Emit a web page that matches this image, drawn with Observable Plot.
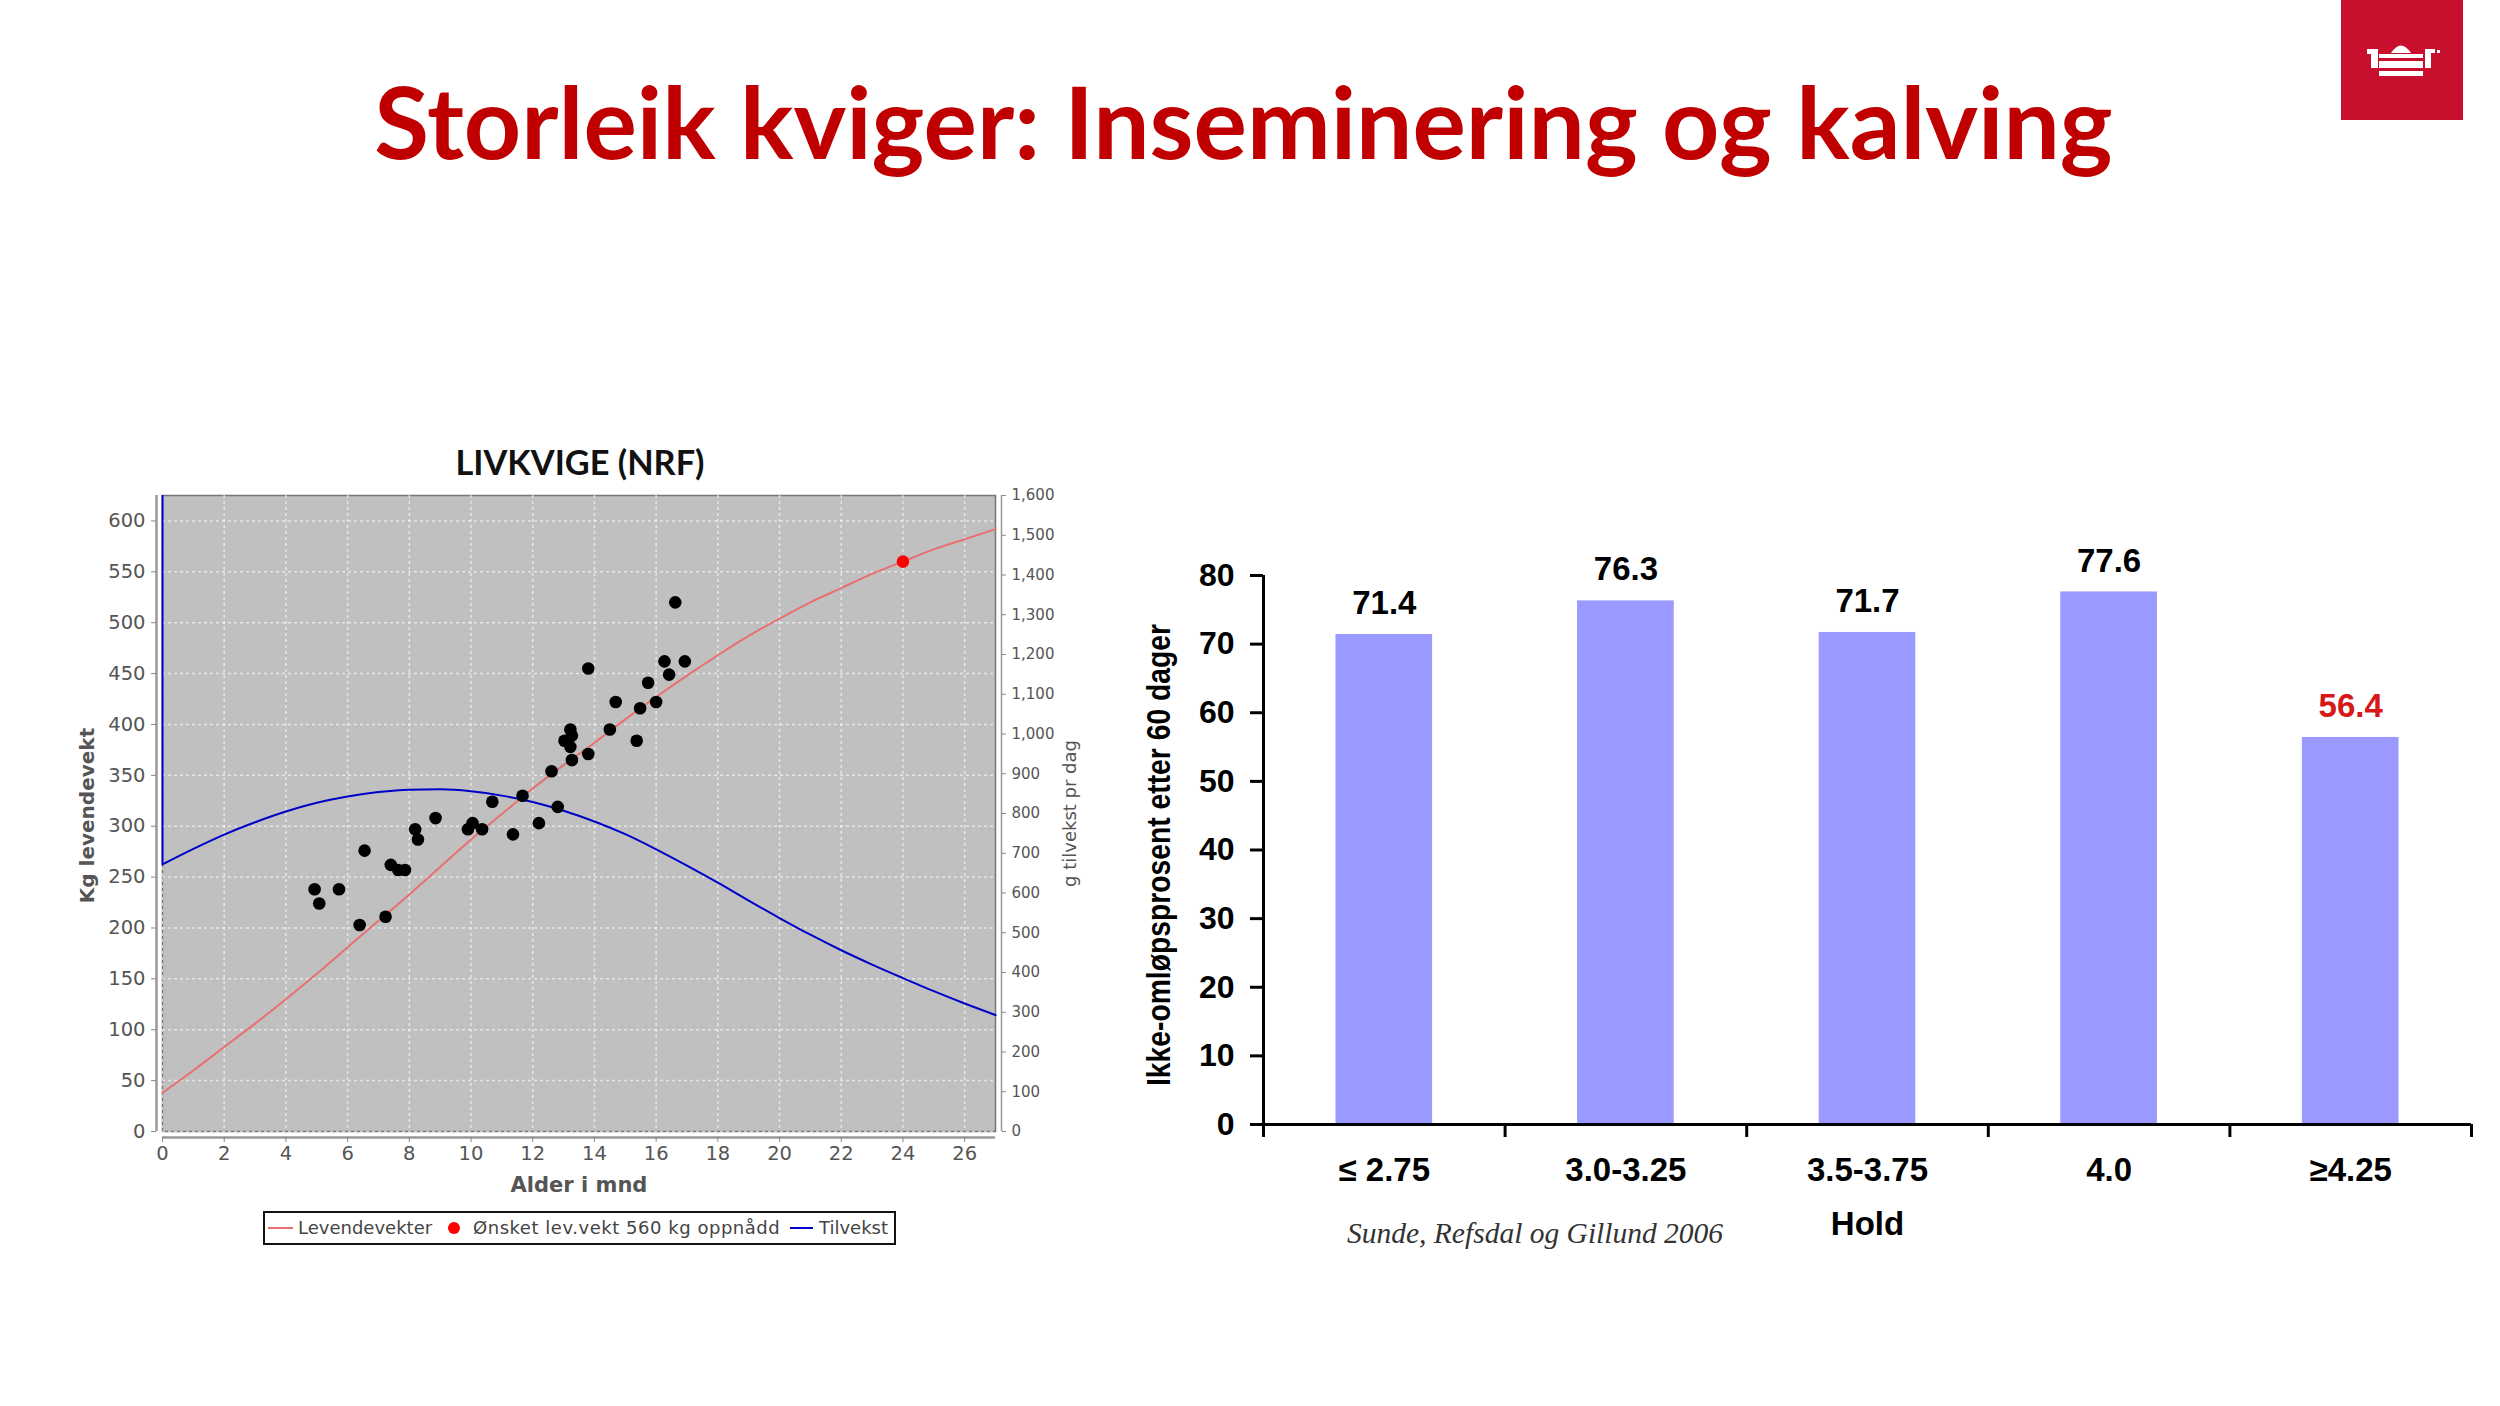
<!DOCTYPE html>
<html><head><meta charset="utf-8">
<script src="https://cdn.jsdelivr.net/npm/d3@7"></script>
<script src="https://cdn.jsdelivr.net/npm/@observablehq/plot@0.6"></script>
<style>
html,body{margin:0;padding:0;background:#fff;width:2500px;height:1406px;overflow:hidden}
#page{position:relative;width:2500px;height:1406px}
#page>div,#page>svg{position:absolute}
#title{left:0;width:2487px;top:60px;text-align:center;font:700 100px Lato,sans-serif;color:#c00000;white-space:nowrap}
#subL{left:260px;width:640px;top:441px;text-align:center;font:700 34.3px Lato,sans-serif;color:#111}
#legend{left:263px;top:1211px;width:629px;height:30px;border:2px solid #111;font:18px "DejaVu Sans",sans-serif;color:#444;white-space:nowrap}
#legend span{position:absolute;top:4px}
#legend i{position:absolute;display:block}
#source{left:1347px;top:1217px;font:italic 29.5px "Liberation Serif",serif;color:#333;white-space:nowrap}
#logo{left:2341px;top:0}
</style></head><body>
<div id="page">
<div id="title">Storleik kviger: Inseminering og kalving</div>
<svg id="logo" width="122" height="120" viewBox="0 0 122 120">
<rect width="122" height="120" fill="#c8102e"/>
<g fill="#fff">
<rect x="26" y="49" width="9" height="5"/><rect x="30" y="49" width="7" height="19"/>
<path d="M50 53 Q60 38 70 53 Z"/>
<rect x="38" y="54" width="44" height="4"/><rect x="38" y="61" width="44" height="7"/><rect x="38" y="71" width="44" height="5"/>
<rect x="84" y="50" width="6" height="18"/><rect x="84" y="49" width="10" height="4"/><rect x="96" y="50" width="3" height="3"/>
</g></svg>
<div id="subL">LIVKVIGE (NRF)</div>
<div id="chartL" style="left:0;top:430px"></div>
<div id="legend">
<i style="left:3px;top:14px;width:25px;height:2px;background:#e87070"></i><span style="left:33px">Levendevekter</span>
<i style="left:183px;top:9px;width:12px;height:12px;border-radius:50%;background:#f00"></i><span style="left:208px;letter-spacing:.53px">Ønsket lev.vekt 560 kg oppnådd</span>
<i style="left:525px;top:14px;width:23px;height:2px;background:#0000c8"></i><span style="left:554px">Tilvekst</span>
</div>
<div id="chartR" style="left:1120px;top:530px"></div>
<div id="source">Sunde, Refsdal og Gillund 2006</div>
</div>
<script>
// Left chart data
const months = [0,1,2,3,4,5,6,7,8,9,10,11,12,13,14,15,16,17,18,19,20,21,22,23,24,25,26,27];
const weightKg = [38,60,83,106,130,155,181,207,233,260,287,312,337,360,382,405,427,448,468,487,504,520,534,548,560,572,582,592];
const gainG = [672,711,747,778,805,827,843,854,860,861,856,845,829,807,780,748,710,669,626,581,537,495,456,420,386,353,322,293];
const dotAge = [4.93,5.08,5.72,6.39,6.55,7.23,7.4,7.64,7.86,8.19,8.28,8.85,9.9,10.05,10.36,10.69,11.36,11.67,12.2,12.61,12.81,13.03,13.22,13.27,13.22,13.27,13.8,13.8,14.5,14.69,15.37,15.48,15.74,16.0,16.27,16.42,16.62,16.93];
const dotKg = [238,224,238,203,276,211,262,257,257,297,287,308,297,303,297,324,292,330,303,354,319,384,395,389,378,365,455,371,395,422,384,416,441,422,462,449,520,462];
const targetAge = [24];
const targetKg = [560];
const kgTicks = d3.range(0,601,50);
const monthTicks = d3.range(0,27,2);
const gainTicks = d3.range(0,1601,100);
const kgMax = 625, gainMax = 1600;
const toKg = g => g*kgMax/gainMax;

const textGrey = "#555";
const left = Plot.plot({
  width:1120,height:860,marginLeft:162,marginRight:125,marginTop:65,marginBottom:159,
  style:{background:"transparent",fontFamily:"'DejaVu Sans',sans-serif",overflow:"visible"},
  x:{domain:[0,27]},
  y:{domain:[0,kgMax]},
  marks:[
    Plot.frame({fill:"#c0c0c0",stroke:"#777",strokeWidth:1.5}),
    Plot.gridX(monthTicks,{stroke:"#fff",strokeOpacity:.6,strokeWidth:1.5,strokeDasharray:"3,3"}),
    Plot.gridY(kgTicks,{stroke:"#fff",strokeOpacity:.6,strokeWidth:1.5,strokeDasharray:"3,3"}),
    Plot.ruleX([0],{dx:-6,stroke:"#999",strokeWidth:2.5}),
    Plot.ruleY([0],{dy:6,stroke:"#999",strokeWidth:2.5}),
    Plot.axisY(kgTicks,{anchor:"left",tickSize:5,dx:-6,tickPadding:6,fontSize:19.5,color:textGrey,stroke:"#888",label:null}),
    Plot.axisX(monthTicks,{anchor:"bottom",tickSize:5,dy:6,tickPadding:4,fontSize:19.5,color:textGrey,stroke:"#888",label:null}),
    Plot.axisY([],{anchor:"left",label:"Kg levendevekt",labelAnchor:"center",labelArrow:"none",labelOffset:83,fontSize:20,fontWeight:"bold",color:"#555"}),
    Plot.axisX([],{anchor:"bottom",label:"Alder i mnd",labelAnchor:"center",labelArrow:"none",labelOffset:60,fontSize:21,fontWeight:"bold",color:"#555"}),
    Plot.axisY(gainTicks.map(toKg),{anchor:"right",tickSize:4,dx:6,tickPadding:6,fontSize:15,color:textGrey,stroke:"#888",label:null,tickFormat:d=>d3.format(",")(Math.round(d*gainMax/kgMax))}),
    Plot.ruleX([27],{dx:6,stroke:"#999",strokeWidth:1.5}),
    Plot.axisY([],{anchor:"right",label:"g tilvekst pr dag",labelAnchor:"center",labelArrow:"none",labelOffset:80,fontSize:18,color:"#555"}),
    Plot.ruleX([0],{y1:toKg(gainG[0]),y2:kgMax,stroke:"#0000c8",strokeWidth:2}),
    Plot.line(months,{x:d=>d,y:(d,i)=>toKg(gainG[i]),stroke:"#0000c8",strokeWidth:2,curve:"monotone-x"}),
    Plot.line(months,{x:d=>d,y:(d,i)=>weightKg[i],stroke:"#e87070",strokeWidth:2,curve:"monotone-x"}),
    Plot.dot(dotAge,{x:d=>d,y:(d,i)=>dotKg[i],r:6.3,fill:"#000"}),
    Plot.dot(targetAge,{x:d=>d,y:(d,i)=>targetKg[i],r:6.3,fill:"#f00"})
  ]
});
document.getElementById("chartL").append(left);

// Right chart data
const holdClasses = ["≤ 2.75","3.0-3.25","3.5-3.75","4.0","≥4.25"];
const nonReturn = [71.4,76.3,71.7,77.6,56.4];
const labelColors = ["#000","#000","#000","#000","#d61818"];
const classIdx = holdClasses.map((_,i)=>i);
const right = Plot.plot({
  width:1380,height:760,marginLeft:143,marginRight:29,marginTop:45,marginBottom:166,
  style:{background:"transparent",fontFamily:"'Liberation Sans',Arial,sans-serif",overflow:"visible"},
  x:{domain:[0,holdClasses.length]},
  y:{domain:[0,80]},
  marks:[
    Plot.rectY(classIdx,{x1:i=>i+.3,x2:i=>i+.7,y1:0,y2:i=>nonReturn[i],fill:"#9999ff"}),
    Plot.ruleX([0],{y1:0,y2:80,stroke:"#000",strokeWidth:3}),
    Plot.ruleY([0],{stroke:"#000",strokeWidth:3}),
    Plot.axisY(d3.range(0,81,10),{anchor:"left",tickSize:13,tickPadding:16,fontSize:32,fontWeight:"bold",color:"#000",label:null,strokeWidth:3}),
    Plot.axisY([],{anchor:"left",label:"Ikke-omløpsprosent etter 60 dager",labelAnchor:"center",labelArrow:"none",labelOffset:117,fontSize:33,fontWeight:"bold",color:"#000"}),
    Plot.axisX(d3.range(0,holdClasses.length+1),{anchor:"bottom",tickSize:13,tickFormat:()=>"",label:null,strokeWidth:3}),
    Plot.axisX(classIdx.map(i=>i+.5),{anchor:"bottom",tickSize:0,tickPadding:33,tickFormat:d=>holdClasses[d-.5],fontSize:33,fontWeight:"bold",color:"#000",label:null}),
    Plot.axisX([],{anchor:"bottom",label:"Hold",labelAnchor:"center",labelArrow:"none",labelOffset:110,fontSize:33,fontWeight:"bold",color:"#000"}),
    Plot.text(classIdx,{x:i=>i+.5,y:i=>nonReturn[i],text:i=>nonReturn[i].toFixed(1),dy:-31,fontSize:33,fontWeight:"bold",fill:i=>labelColors[i]})
  ]
});
document.getElementById("chartR").append(right);
function nudge(svg, start, dy, length){
  d3.select(svg).selectAll("text").filter(function(){return this.textContent.startsWith(start)}).each(function(){
    const t = d3.select(this);
    t.attr("transform", `translate(0,${dy}) ` + (t.attr("transform")||""));
    if (length) t.attr("textLength",length).attr("lengthAdjust","spacingAndGlyphs");
  });
}
nudge(right,"Ikke-oml",5,462);
nudge(left,"Kg levende",2);
</script>
</body></html>
